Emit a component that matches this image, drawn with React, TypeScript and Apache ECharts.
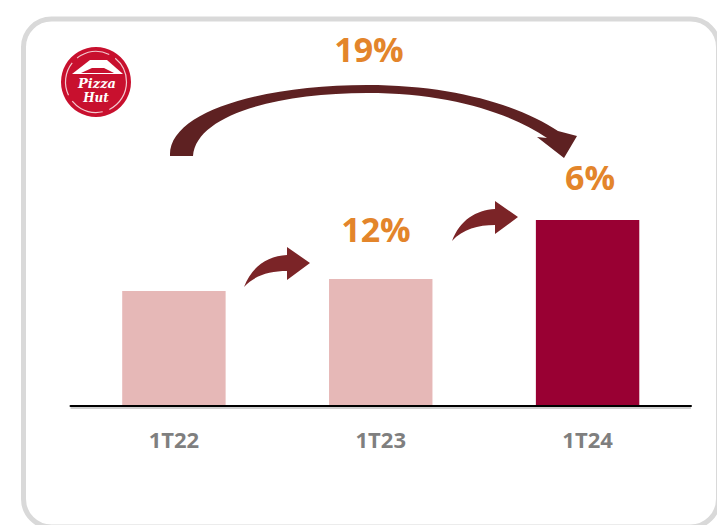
import React, { useEffect, useRef } from "react";
import * as echarts from "echarts";

const categories = ["1T22", "1T23", "1T24"];
const barValues = [115, 127, 186];
const barColors = ["#E6B8B7", "#E6B8B7", "#990033"];
const growthLabels = ["12%", "6%", "19%"];

const BIG_ARROW =
  "M 170 156 C 168 112 262 85 367 85 C 455 85 520 106 558 131 L 577 136 L 564 158 L 537 137 L 547 138 C 510 113 450 93 367 93 C 277 93 196 115 193 156 Z";
const SMALL_ARROW =
  "M 0 0 C 8 -21 24 -31 43 -32 L 43 -40 L 66 -24 L 43 -7 L 43 -16 C 26 -16 11 -12 0 0 Z";

echarts.graphic.registerShape("bigArrow", echarts.graphic.extendPath(BIG_ARROW, {}));
echarts.graphic.registerShape("smallArrow", echarts.graphic.extendPath(SMALL_ARROW, {}));

export default function App() {
  const ref = useRef<HTMLDivElement>(null);
  useEffect(() => {
    if (!ref.current) return;
    const chart = echarts.init(ref.current, undefined, { renderer: "svg" });
    const orange = "#E3852B";
    const pctFont = 'bold 34px "Open Sans", Lato, sans-serif';
    chart.setOption({
      animation: false,
      backgroundColor: "#ffffff",
      grid: { left: 70.5, right: 26, top: 206, bottom: 119, containLabel: false },
      xAxis: {
        type: "category",
        data: categories,
        axisLine: {
          show: true,
          onZero: false,
          lineStyle: { color: "#000000", width: 2 },
        },
        axisTick: { show: false },
        axisLabel: {
          color: "#7F7F7F",
          fontFamily: "'Open Sans', Lato, sans-serif",
          fontWeight: "bold",
          fontSize: 22,
          margin: 22,
        },
        z: 5,
      },
      yAxis: {
        type: "value",
        min: 0,
        max: 200,
        axisLine: { show: false },
        axisTick: { show: false },
        axisLabel: { show: false },
        splitLine: { show: false },
      },
      series: [
        {
          type: "bar",
          barWidth: "50%",
          data: barValues.map((v, i) => ({ value: v, itemStyle: { color: barColors[i] } })),
        },
      ],
      graphic: [
        {
          type: "rect",
          shape: { x: 23.5, y: 19, width: 695, height: 508, r: 28 },
          style: { fill: "none", stroke: "#D9D9D9", lineWidth: 5 },
          z: 0,
        },
        {
          type: "line",
          shape: { x1: 70.5, y1: 408, x2: 691, y2: 408 },
          style: { stroke: "rgba(0,0,0,0.25)", lineWidth: 1.5 },
          z: 1,
        },
        // logo
        { type: "circle", shape: { cx: 96, cy: 82, r: 35 }, style: { fill: "#C8102E" }, z: 10 },
        {
          type: "circle",
          shape: { cx: 96, cy: 82, r: 30.5 },
          style: { fill: "none", stroke: "#F3C9CF", lineWidth: 1.2, lineDash: [34, 7] },
          z: 11,
        },
        {
          type: "polygon",
          shape: { points: [[72, 74], [123, 74], [107, 60], [90, 60]] },
          style: { fill: "#ffffff" },
          z: 11,
        },
        {
          type: "polygon",
          shape: { points: [[81, 73], [114, 73], [104, 68], [92, 68]] },
          style: { fill: "#C8102E" },
          z: 12,
        },
        {
          type: "text",
          style: {
            text: "Pizza",
            x: 97,
            y: 83,
            font: 'italic bold 13px "DejaVu Serif", serif',
            fill: "#ffffff",
            align: "center",
            verticalAlign: "middle",
          },
          z: 12,
        },
        {
          type: "text",
          style: {
            text: "Hut",
            x: 96,
            y: 98,
            font: 'italic bold 12px "DejaVu Serif", serif',
            fill: "#ffffff",
            align: "center",
            verticalAlign: "middle",
          },
          z: 12,
        },
        // arrows
        { type: "bigArrow", x: 0, y: 0, style: { fill: "#5E2122" }, z: 10 },
        { type: "smallArrow", x: 244, y: 287, style: { fill: "#7B2427" }, z: 10 },
        { type: "smallArrow", x: 452, y: 241, style: { fill: "#7B2427" }, z: 10 },
        // growth labels
        {
          type: "text",
          style: { text: growthLabels[0], x: 376, y: 229, font: pctFont, fill: orange, align: "center", verticalAlign: "middle" },
          z: 12,
        },
        {
          type: "text",
          style: { text: growthLabels[1], x: 590, y: 177, font: pctFont, fill: orange, align: "center", verticalAlign: "middle" },
          z: 12,
        },
        {
          type: "text",
          style: { text: growthLabels[2], x: 369, y: 49, font: pctFont, fill: orange, align: "center", verticalAlign: "middle" },
          z: 12,
        },
      ],
    });
    return () => chart.dispose();
  }, []);
  return (
    <div
      ref={ref}
      style={{ position: "fixed", left: 0, top: 0, width: 717, height: 525 }}
    />
  );
}
